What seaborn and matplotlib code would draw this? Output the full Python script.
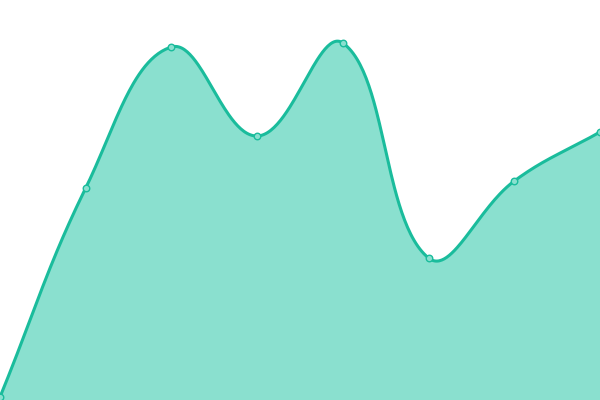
import numpy as np
import pandas as pd
import matplotlib
matplotlib.use("Agg")
import matplotlib.pyplot as plt
import seaborn as sns

# Data
labels = ["p1", "p2", "p3", "p4", "p5", "p6", "p7", "p8"]
values = [3, 212, 353, 264, 357, 142, 219, 268]

LINE = "#1abc9c"
FILL = "#8ae0cf"
W, H = 600, 400
YMAX = 400

sns.set_theme(style="white")

fig = plt.figure(figsize=(6, 4), dpi=100)
ax = fig.add_axes([0, 0, 1, 1])

n = len(values)
xs = np.arange(n, dtype=float)
ys = np.array(values, dtype=float)

# Pixel-space positions for Chart.js-like spline control points
px = xs * W / (n - 1)
py = ys * H / YMAX

def spline(px, py, t=0.4):
    cps = []
    for i in range(len(px)):
        p = np.array([px[i], py[i]])
        prev = np.array([px[i - 1], py[i - 1]]) if i > 0 else p
        nxt = np.array([px[i + 1], py[i + 1]]) if i < len(px) - 1 else p
        d01 = np.hypot(*(p - prev))
        d12 = np.hypot(*(nxt - p))
        tot = d01 + d12
        s01 = d01 / tot if tot else 0
        s12 = d12 / tot if tot else 0
        fa, fb = t * s01, t * s12
        cp_prev = p - fa * (nxt - prev)
        cp_next = p + fb * (nxt - prev)
        cp_prev = np.clip(cp_prev, [0, 0], [W, H])
        cp_next = np.clip(cp_next, [0, 0], [W, H])
        cps.append((cp_prev, cp_next))
    cx, cy = [], []
    tt = np.linspace(0, 1, 60)
    for i in range(len(px) - 1):
        p0 = np.array([px[i], py[i]])
        p3 = np.array([px[i + 1], py[i + 1]])
        p1 = cps[i][1]
        p2 = cps[i + 1][0]
        b = ((1 - tt) ** 3)[:, None] * p0 + (3 * (1 - tt) ** 2 * tt)[:, None] * p1 \
            + (3 * (1 - tt) * tt ** 2)[:, None] * p2 + (tt ** 3)[:, None] * p3
        if i > 0:
            b = b[1:]
        cx.extend(b[:, 0]); cy.extend(b[:, 1])
    return np.array(cx), np.array(cy)

cx, cy = spline(px, py)
curve = pd.DataFrame({"x": cx * (n - 1) / W, "y": cy * YMAX / H})
pts = pd.DataFrame({"x": xs, "y": ys, "label": labels})

ax.fill_between(curve["x"], 0, curve["y"], color=FILL, linewidth=0, zorder=1)
sns.lineplot(data=curve, x="x", y="y", ax=ax, color=LINE, linewidth=2.2,
             sort=False, estimator=None, zorder=2)
sns.scatterplot(data=pts, x="x", y="y", ax=ax, s=22, color=FILL,
                edgecolor=LINE, linewidth=1, zorder=3, clip_on=False)

ax.set_xlim(0, n - 1)
ax.set_ylim(0, YMAX)
ax.set_axis_off()

fig.savefig("out.png", dpi=100)
